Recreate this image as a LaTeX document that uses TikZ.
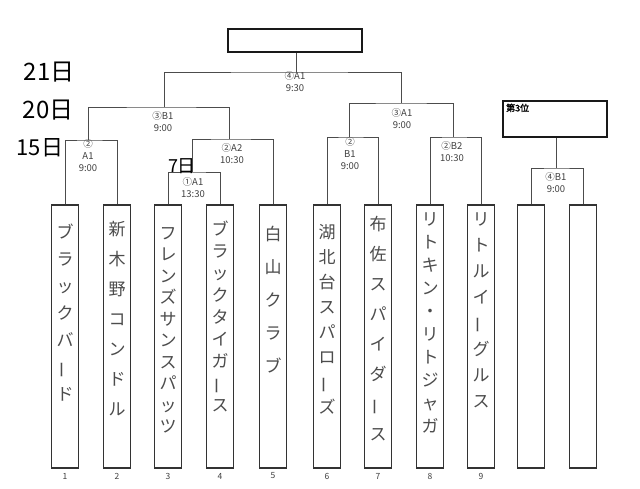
\documentclass[tikz,border=0pt]{standalone}
\usepackage{fontspec}
\newfontfamily\jp{Noto Sans CJK JP}
\newfontfamily\jpb{Noto Sans CJK JP}[FakeBold=2]
\newcommand\vbar{\rotatebox[origin=c]{90}{ー}}
\begin{document}
\begin{tikzpicture}[x=1pt,y=-1pt,
  team/.style={draw=black!80, line width=1.5pt, minimum width=27pt, minimum height=263pt, inner sep=0pt},
  brk/.style={draw=black!70, line width=0.8pt},
  titlebox/.style={draw=black!90, line width=1.8pt, inner sep=0pt},
  lbl/.style={font=\jp\fontsize{9.5}{12}\selectfont, text=black!75, align=center, inner sep=0pt, anchor=north},
  num/.style={font=\jp\fontsize{8.5}{8.5}\selectfont, text=black!75, inner sep=0pt},
  names/.style={font=\jp\fontsize{17}{#1}\selectfont, text=black!70, align=center, anchor=north, inner sep=0pt},
  datemark/.style={font=\jp\fontsize{#1}{#1}\selectfont, text=black, inner sep=0pt}
]
\useasboundingbox (0,0) rectangle (640,488);
\fill[white] (0,0) rectangle (640,488);

% team boxes
\foreach \i/\x in {1/65,2/117,3/168,4/220,5/273,6/327,7/378,8/430,9/481,10/531,11/583}
  \node[team] (t\i) at (\x,336.5) {};

% numbers
\foreach \i/\x in {1/65,2/117,3/168,4/220,5/273,6/327,7/378,8/430,9/481}
  \node[num] (l\i) at (\x,476) {\i};

% team names
\node[names=27] (n1) at (65,224) {ブ\\ラ\\ッ\\ク\\バ\\\vbar\\ド};
\node[names=30] (n2) at (117,221) {新\\木\\野\\コ\\ン\\ド\\ル};
\node[names=21.5] (n3) at (168,227) {フ\\レ\\ン\\ズ\\サ\\ン\\ス\\パ\\ッ\\ツ};
\node[names=22] (n4) at (220,221) {ブ\\ラ\\ッ\\ク\\タ\\イ\\ガ\\\vbar\\ス};
\node[names=33] (n5) at (273,226) {白\\山\\ク\\ラ\\ブ};
\node[names=25] (n6) at (327,224) {湖\\北\\台\\ス\\パ\\ロ\\\vbar\\ズ};
\node[names=30] (n7) at (378,216) {布\\佐\\ス\\パ\\イ\\ダ\\\vbar\\ス};
\node[names=23] (n8) at (430,212) {リ\\ト\\キ\\ン\\・\\リ\\ト\\ジ\\ャ\\ガ};
\node[names=26] (n9) at (481,212) {リ\\ト\\ル\\イ\\\vbar\\グ\\ル\\ス};

% title boxes
\node[titlebox, minimum width=134pt, minimum height=23pt] (top) at (295,40.5) {};
\node[titlebox, minimum width=104pt, minimum height=36pt] (third) at (555,119) {};
\node[anchor=north west, inner sep=0pt, font=\jpb\fontsize{9}{9}\selectfont] (thirdlbl) at (506,103.5) {第3位};

% junctions
\coordinate (a) at (88,140);
\coordinate (b) at (192,172);
\coordinate (c) at (229,139);
\coordinate (d) at (164,107);
\coordinate (e) at (296,72);
\coordinate (f) at (401,103);
\coordinate (g) at (349,137);
\coordinate (h) at (453,137);
\coordinate (k) at (556,168);

% bracket lines
\draw[brk] (t1.north) |- (a) -| (t2.north);
\draw[brk] (t3.north) |- (b) -| (t4.north);
\draw[brk] (b) |- (c) -| (t5.north);
\draw[brk] (a) |- (d) -| (c);
\draw[brk] (d) |- (e) -| (f);
\draw[brk] (e) -- (e |- top.south);
\draw[brk] (g) |- (f) -| (h);
\draw[brk] (t6.north) |- (g) -| (t7.north);
\draw[brk] (t8.north) |- (h) -| (t9.north);
\draw[brk] (t10.north) |- (k) -| (t11.north);
\draw[brk] (k) -- (k |- third.south);

% match labels
\node[lbl] (m1) at (88,139.5) {②\\A1\\9:00};
\node[lbl] (m2) at (193,177) {①A1\\13:30};
\node[lbl] (m3) at (232,143) {②A2\\10:30};
\node[lbl] (m4) at (163,111) {③B1\\9:00};
\node[lbl] (m5) at (295,71.5) {④A1\\9:30};
\node[lbl] (m6) at (402,108) {③A1\\9:00};
\node[lbl] (m7) at (350,137) {②\\B1\\9:00};
\node[lbl] (m8) at (452,141) {②B2\\10:30};
\node[lbl] (m9) at (556,172) {④B1\\9:00};

% handwritten dates
\node[datemark=24] (d21) at (49,72) {21日};
\node[datemark=24] (d20) at (48,110) {20日};
\node[datemark=22] (d15) at (40,148) {15日};
\node[datemark=18] (d7) at (182,166) {7日};
\end{tikzpicture}
\end{document}
